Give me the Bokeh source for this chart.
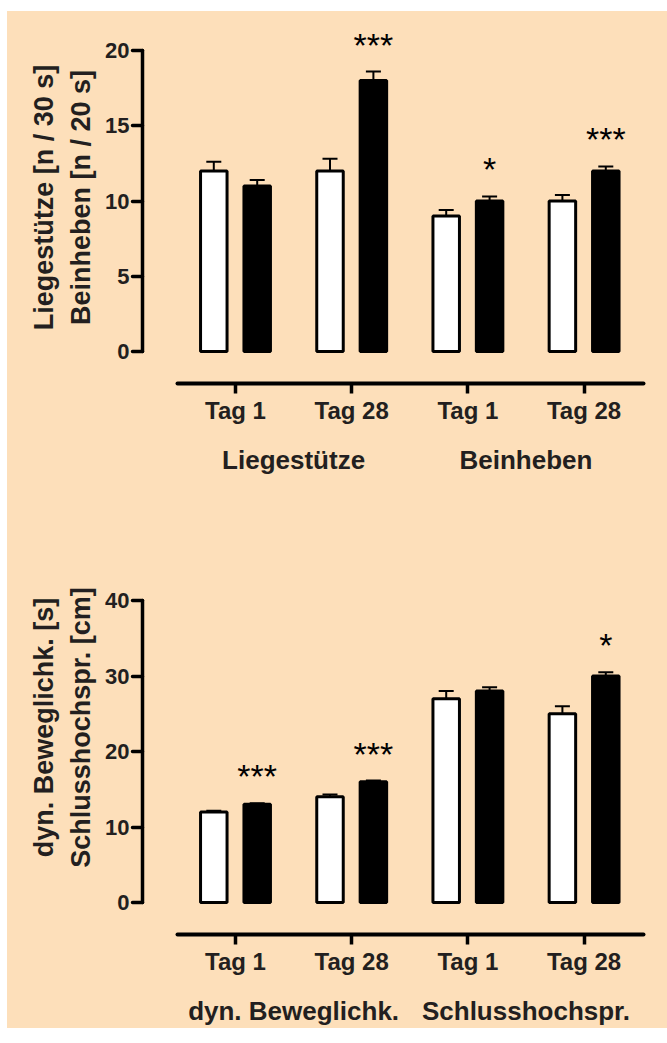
from bokeh.plotting import figure
from bokeh.models import (ColumnDataSource, Range1d, FixedTicker, LinearAxis,
                          Whisker, TeeHead, Spacer)
from bokeh.layouts import column, row
from bokeh.core.properties import value
from bokeh.embed import file_html
from bokeh.resources import INLINE

# ---------------- data ----------------
day_labels = ["Tag 1", "Tag 28", "Tag 1", "Tag 28"]

top_groups = ["Liegestütze", "Beinheben"]
top_ylabel = ["Liegestütze [n / 30 s]", "Beinheben [n / 20 s]"]
top_open = [12.0, 12.0, 9.0, 10.0]
top_open_err = [0.6, 0.8, 0.4, 0.4]
top_filled = [11.0, 18.0, 10.0, 12.0]
top_filled_err = [0.4, 0.6, 0.3, 0.3]
top_sig = ["", "***", "*", "***"]
top_yticks = [0, 5, 10, 15, 20]

bot_groups = ["dyn. Beweglichk.", "Schlusshochspr."]
bot_ylabel = ["dyn. Beweglichk. [s]", "Schlusshochspr. [cm]"]
bot_open = [12.0, 14.0, 27.0, 25.0]
bot_open_err = [0.15, 0.3, 1.0, 1.0]
bot_filled = [13.0, 16.0, 28.0, 30.0]
bot_filled_err = [0.15, 0.15, 0.5, 0.5]
bot_sig = ["***", "***", "", "*"]
bot_yticks = [0, 10, 20, 30, 40]

# ---------------- style ----------------
BG = "#FDDFBA"
TXT = "#231F20"
FONT = "Liberation Sans"
UNIT_PX = 116.2          # px between group centres
OFF = 21.7 / UNIT_PX     # bar offset from group centre
BAR_W = 26.5 / UNIT_PX
FIG_W = 660


def panel(open_v, open_e, fill_v, fill_e, sig, yticks, ylabel, groups,
          gap_top, axis_px, gap_bottom, border_bottom):
    ymax = yticks[-1]
    upp = ymax / axis_px
    frame_h = gap_top + axis_px + gap_bottom
    centres = list(range(1, len(open_v) + 1))
    x0 = 1 - 93 / UNIT_PX
    left = 135
    frame_w = 513
    p = figure(frame_width=frame_w, frame_height=frame_h,
               min_border_left=left, min_border_right=FIG_W - left - frame_w,
               min_border_top=0, min_border_bottom=border_bottom,
               x_range=Range1d(x0, x0 + frame_w / UNIT_PX),
               y_range=Range1d(-gap_bottom * upp, ymax + gap_top * upp),
               output_backend="svg", toolbar_location=None)
    p.background_fill_color = None
    p.border_fill_color = BG
    p.outline_line_color = None
    p.xgrid.visible = False
    p.ygrid.visible = False

    src = ColumnDataSource(dict(
        xo=[c - OFF for c in centres], xf=[c + OFF for c in centres],
        open=open_v, open_up=[v + e for v, e in zip(open_v, open_e)],
        fill=fill_v, fill_up=[v + e for v, e in zip(fill_v, fill_e)],
        sig=sig))

    for base, lo, up in (("xo", "open", "open_up"), ("xf", "fill", "fill_up")):
        w = Whisker(source=src, base=base, lower=lo, upper=up,
                    line_width=2, line_color="black", lower_head=None,
                    upper_head=TeeHead(size=15, line_width=2, line_color="black"))
        p.add_layout(w)

    p.vbar(x="xo", top="open", bottom=0, width=BAR_W, source=src,
           fill_color="white", line_color="black", line_width=3)
    p.vbar(x="xf", top="fill", bottom=0, width=BAR_W, source=src,
           fill_color="black", line_color="black", line_width=3)

    p.text(x="xf", y="fill_up", text="sig", source=src, text_align="center",
           text_baseline="middle", y_offset=-27, text_font=value(FONT),
           text_font_size="34px", text_color="black")

    # y axis
    ya = p.yaxis[0]
    ya.ticker = FixedTicker(ticks=yticks)
    ya.bounds = (0, ymax)
    ya.axis_line_width = 3.5
    ya.axis_line_cap = "round"
    ya.major_tick_line_width = 3.5
    ya.major_tick_line_cap = "round"
    ya.major_tick_out = 10
    ya.major_tick_in = 0
    ya.minor_tick_line_color = None
    ya.major_label_standoff = 3
    ya.major_label_text_font = FONT
    ya.major_label_text_font_style = "bold"
    ya.major_label_text_font_size = "22px"
    ya.major_label_text_color = TXT
    ya.axis_label = "\n".join(ylabel)
    ya.axis_label_text_font = FONT
    ya.axis_label_text_font_style = "bold"
    ya.axis_label_text_font_size = "27px"
    ya.axis_label_text_color = TXT
    ya.axis_label_text_line_height = 1.22
    ya.axis_label_standoff = 6

    # x axis: days
    xa = p.xaxis[0]
    xa.ticker = FixedTicker(ticks=centres)
    xa.major_label_overrides = {c: d for c, d in zip(centres, day_labels)}
    xa.bounds = (1 - 58 / UNIT_PX, 1 + 408 / UNIT_PX)
    xa.axis_line_width = 4
    xa.axis_line_cap = "round"
    xa.major_tick_line_width = 3.5
    xa.major_tick_out = 10
    xa.major_tick_in = 0
    xa.minor_tick_line_color = None
    xa.major_label_standoff = 3
    xa.major_label_text_font = FONT
    xa.major_label_text_font_style = "bold"
    xa.major_label_text_font_size = "24px"
    xa.major_label_text_color = TXT

    # x axis: groups
    gpos = [(centres[2 * i] + centres[2 * i + 1]) / 2 for i in range(len(groups))]
    ga = LinearAxis(ticker=FixedTicker(ticks=gpos),
                    major_label_overrides={g: t for g, t in zip(gpos, groups)},
                    axis_line_color=None, major_tick_line_color=None,
                    minor_tick_line_color=None, major_label_standoff=12,
                    major_label_text_font=FONT, major_label_text_font_style="bold",
                    major_label_text_font_size="26px", major_label_text_color=TXT)
    p.add_layout(ga, "below")
    return p


p1 = panel(top_open, top_open_err, top_filled, top_filled_err, top_sig,
           top_yticks, top_ylabel, top_groups,
           gap_top=39, axis_px=301, gap_bottom=32, border_bottom=137)
p2 = panel(bot_open, bot_open_err, bot_filled, bot_filled_err, bot_sig,
           bot_yticks, bot_ylabel, bot_groups,
           gap_top=80, axis_px=302, gap_bottom=32, border_bottom=94)

charts = column(p1, p2, styles={"background-color": BG})
layout = row(Spacer(width=7, height=10), column(Spacer(height=11, width=10), charts))
open("out.html", "w").write(file_html(layout, INLINE))
